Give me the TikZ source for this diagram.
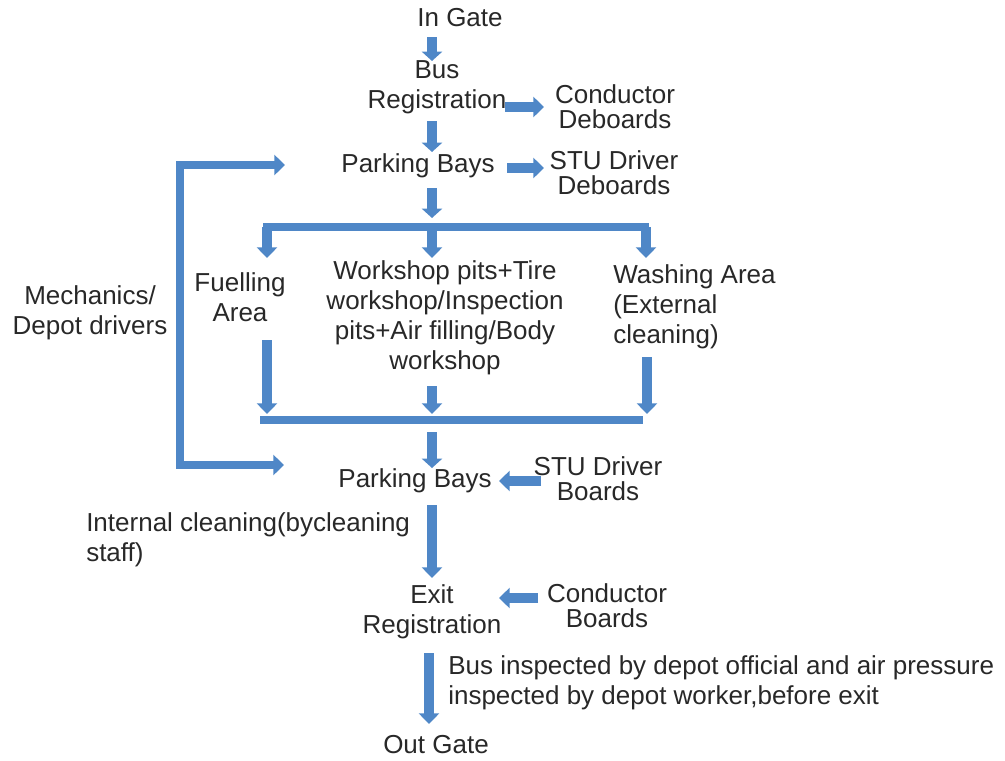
\documentclass[tikz,border=0pt]{standalone}
\usepackage{fontspec}
\setmainfont{Liberation Sans}
\usetikzlibrary{arrows.meta}
\definecolor{arrblue}{RGB}{79,135,199}
\definecolor{txt}{RGB}{40,40,40}
\begin{document}
\begin{tikzpicture}[x=0.75pt,y=-0.75pt,
  lbl/.style={inner sep=0pt,text=txt,font=\fontsize{19.5}{22.5}\selectfont,align=center},
  tight/.style={font=\fontsize{19.5}{19}\selectfont},
  blk/.style={draw=arrblue,line width=7pt,-{Triangle[width=15pt,length=8pt]}},
  fat/.style={draw=arrblue,line width=8pt,-{Triangle[width=15pt,length=7pt]}},
  bar/.style={draw=arrblue,line width=6pt}]
\useasboundingbox (0,0) rectangle (1005,760);
% nodes
\node[lbl] (ingate) at (460,18) {In Gate};
\node[lbl] (busreg) at (437,87) {Bus\\Registration};
\node[lbl,tight] (cond1) at (615,107) {Conductor\\Deboards};
\node[lbl] (park1) at (418,166) {Parking Bays};
\node[lbl,tight] (stu1) at (614,173) {STU Driver\\Deboards};
\node[lbl] (fuel) at (240,297) {Fuelling\\Area};
\node[lbl] (work) at (445,318) {Workshop pits+Tire\\workshop/Inspection\\pits+Air filling/Body\\workshop};
\node[lbl,align=left,anchor=west] (wash) at (613,307) {Washing Area\\(External\\cleaning)};
\node[lbl] (mech) at (90,313) {Mechanics/\\Depot drivers};
\node[lbl] (park2) at (415,481) {Parking Bays};
\node[lbl,tight] (stu2) at (598,479) {STU Driver\\Boards};
\node[lbl,align=left,anchor=west] (internal) at (86,540) {Internal cleaning(bycleaning\\staff)};
\node[lbl] (exitreg) at (432,612) {Exit\\Registration};
\node[lbl,tight] (cond2) at (607,606) {Conductor\\Boards};
\node[lbl,align=left,anchor=west] (insp) at (448,683) {Bus inspected by depot official and air pressure\\inspected by depot worker,before exit};
\node[lbl] (outgate) at (436,745) {Out Gate};
% coordinates
\coordinate (a1s) at (432,37);  \coordinate (a1e) at (432,61);
\coordinate (a2s) at (505,107); \coordinate (a2e) at (544,107);
\coordinate (a3s) at (432,121); \coordinate (a3e) at (432,152);
\coordinate (a4s) at (507,168); \coordinate (a4e) at (544,168);
\coordinate (a5s) at (432,188); \coordinate (a5e) at (432,218);
\coordinate (b1l) at (263,227); \coordinate (b1r) at (649,227);
\coordinate (f1s) at (267,227); \coordinate (f1e) at (267,258);
\coordinate (w1s) at (432,227); \coordinate (w1e) at (432,258);
\coordinate (x1s) at (646,227); \coordinate (x1e) at (646,258);
\coordinate (lt) at (180,165);  \coordinate (lte) at (285,165);
\coordinate (lb) at (180,465);  \coordinate (lbe) at (284,465);
\coordinate (f2s) at (267,340); \coordinate (f2e) at (267,414);
\coordinate (w2s) at (432,386); \coordinate (w2e) at (432,414);
\coordinate (x2s) at (647,357); \coordinate (x2e) at (647,414);
\coordinate (b2l) at (260,420); \coordinate (b2r) at (643,420);
\coordinate (a6s) at (432,432); \coordinate (a6e) at (432,468);
\coordinate (a7s) at (541,481); \coordinate (a7e) at (499,481);
\coordinate (a8s) at (432,505); \coordinate (a8e) at (432,578);
\coordinate (a9s) at (538,598); \coordinate (a9e) at (499,598);
\coordinate (a10s) at (429,653); \coordinate (a10e) at (429,724);
% arrows
\draw[fat] (a1s) -- (a1e);
\draw[blk] (a2s) -- (a2e);
\draw[fat] (a3s) -- (a3e);
\draw[blk] (a4s) -- (a4e);
\draw[fat] (a5s) -- (a5e);
\draw[bar] (b1l) -- (b1r);
\draw[blk] (f1s) -- (f1e);
\draw[blk] (w1s) -- (w1e);
\draw[blk] (x1s) -- (x1e);
\draw[draw=arrblue,line width=6pt,line join=miter,
  {Triangle[width=15pt,length=8pt]}-{Triangle[width=15pt,length=8pt]}]
  (lte) -- (lt) -- (lb) -- (lbe);
\draw[blk] (f2s) -- (f2e);
\draw[blk] (w2s) -- (w2e);
\draw[blk] (x2s) -- (x2e);
\draw[bar] (b2l) -- (b2r);
\draw[fat] (a6s) -- (a6e);
\draw[blk] (a7s) -- (a7e);
\draw[blk] (a8s) -- (a8e);
\draw[blk] (a9s) -- (a9e);
\draw[blk] (a10s) -- (a10e);
\end{tikzpicture}
\end{document}
